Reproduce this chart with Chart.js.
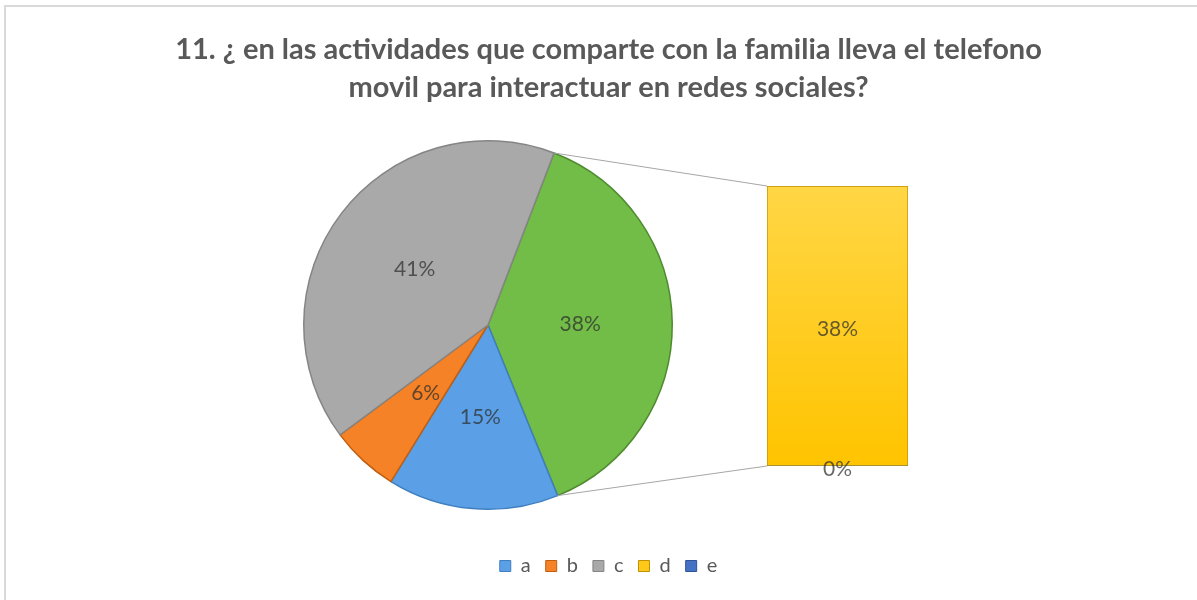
<!DOCTYPE html>
<html>
<head>
<meta charset="utf-8">
<script src="https://cdn.jsdelivr.net/npm/chart.js@4.4.0/dist/chart.umd.min.js"></script>
<style>
  body { margin: 0; background: #fff; }
  #contenedor { position: relative; width: 1197px; height: 600px; overflow: hidden; }
  #marco { position: absolute; left: 4px; top: 5px; width: 1300px; height: 700px;
           border-left: 2px solid #d9d9d9; border-top: 2px solid #d9d9d9; }
  canvas { position: absolute; }
  #graficoBase { left: 0; top: 0; }
  #graficoTorta { left: 298px; top: 135px; }
  #graficoBarra { left: 540px; top: 130px; }
</style>
</head>
<body>
<div id="contenedor">
  <div id="marco"></div>
  <canvas id="graficoBase" width="1197" height="600"></canvas>
  <canvas id="graficoTorta" width="380" height="380"></canvas>
  <canvas id="graficoBarra" width="436" height="390"></canvas>
</div>
<script>
// datos
const categorias = ["a", "b", "c", "d", "e"];
const colores = ["#5ba0e6", "#f58226", "#a9a9a9", "#ffc91a", "#4472c4"];
const bordes = ["#3f7fc0", "#c05e10", "#858585", "#bf9000", "#2f5597"];

// torta principal: "otro" (d + e), a, b, c
const etiquetasTorta = ["otro", "a", "b", "c"];
const valoresTorta = [38, 15, 6, 41];
const coloresTorta = ["#72bc48", "#5ba0e6", "#f58226", "#a9a9a9"];
const bordesTorta = ["#4e8a2e", "#3f7fc0", "#c05e10", "#858585"];

// barra secundaria: e abajo, d arriba
const etiquetasBarra = ["e", "d"];
const valoresBarra = [0, 38];

const titulo = [
  "11. ¿ en las actividades que comparte con la familia lleva el telefono",
  "movil para interactuar en redes sociales?"
];

const fuente = "Lato";
let tortaChart;

// dibuja los porcentajes sobre cada elemento
const etiquetasPlugin = {
  id: "etiquetas",
  afterDatasetsDraw(chart) {
    const ctx = chart.ctx;
    ctx.save();
    ctx.font = `21px ${fuente}`;
    ctx.textAlign = "center";
    ctx.textBaseline = "middle";
    ctx.fillStyle = "rgba(45,45,45,0.72)";
    chart.data.datasets.forEach((ds, i) => {
      const meta = chart.getDatasetMeta(i);
      meta.data.forEach((el, j) => {
        let x, y;
        if (meta.type === "pie") {
          const p = el.tooltipPosition();
          x = p.x; y = p.y;
        } else {
          x = el.x; y = (el.y + el.base) / 2 + 3;
        }
        ctx.fillText(ds.data[j] + "%", x, y);
      });
    });
    ctx.restore();
  }
};

// lineas que unen la torta con la barra
const conectoresPlugin = {
  id: "conectores",
  beforeDatasetsDraw(chart) {
    if (!tortaChart) return;
    const arco = tortaChart.getDatasetMeta(0).data[0];
    const tortaCanvas = tortaChart.canvas;
    const barraCanvas = chart.canvas;
    const dx = tortaCanvas.offsetLeft - barraCanvas.offsetLeft;
    const dy = tortaCanvas.offsetTop - barraCanvas.offsetTop;
    const r = arco.outerRadius;
    const p1 = { x: arco.x + r * Math.cos(arco.startAngle) + dx, y: arco.y + r * Math.sin(arco.startAngle) + dy };
    const p2 = { x: arco.x + r * Math.cos(arco.endAngle) + dx, y: arco.y + r * Math.sin(arco.endAngle) + dy };
    const barraD = chart.getDatasetMeta(1).data[0];
    const barraE = chart.getDatasetMeta(0).data[0];
    const izq = barraD.x - barraD.width / 2;
    const ctx = chart.ctx;
    ctx.save();
    ctx.strokeStyle = "#a6a6a6";
    ctx.lineWidth = 1;
    ctx.beginPath();
    ctx.moveTo(p1.x, p1.y);
    ctx.lineTo(izq, barraD.y);
    ctx.moveTo(p2.x, p2.y);
    ctx.lineTo(izq, barraE.base);
    ctx.stroke();
    ctx.restore();
  }
};

// grafico base: titulo y leyenda
new Chart(document.getElementById("graficoBase"), {
  type: "pie",
  data: { labels: categorias, datasets: [] },
  options: {
    responsive: false,
    animation: false,
    layout: { padding: { bottom: 14, left: 20 } },
    plugins: {
      tooltip: { enabled: false },
      title: {
        display: true,
        text: titulo,
        color: "#595959",
        font: { family: fuente, size: 29, weight: "bold", lineHeight: 1.31 },
        padding: { top: 31, bottom: 0 }
      },
      legend: {
        position: "bottom",
        onClick: () => {},
        labels: {
          boxWidth: 11,
          boxHeight: 11,
          padding: 15,
          color: "#595959",
          font: { family: fuente, size: 20 },
          generateLabels: () => categorias.map((c, i) => ({
            text: c,
            fillStyle: colores[i],
            strokeStyle: bordes[i],
            lineWidth: 1,
            hidden: false,
            index: i,
            fontColor: "#595959"
          }))
        }
      }
    }
  }
});

// torta principal
tortaChart = new Chart(document.getElementById("graficoTorta"), {
  type: "pie",
  data: {
    labels: etiquetasTorta,
    datasets: [{
      data: valoresTorta,
      backgroundColor: coloresTorta,
      borderColor: bordesTorta,
      borderWidth: 1.5
    }]
  },
  options: {
    responsive: false,
    animation: false,
    rotation: 21,
    layout: { padding: 5 },
    plugins: { legend: { display: false }, tooltip: { enabled: false } }
  },
  plugins: [etiquetasPlugin]
});

// barra de desglose
const degradado = (ctx) => {
  const area = ctx.chart.chartArea;
  if (!area) return colores[3];
  const g = ctx.chart.ctx.createLinearGradient(0, area.top, 0, area.bottom);
  g.addColorStop(0, "#ffd645");
  g.addColorStop(1, "#ffc400");
  return g;
};

new Chart(document.getElementById("graficoBarra"), {
  type: "bar",
  data: {
    labels: ["d/e"],
    datasets: [
      { label: etiquetasBarra[0], data: [valoresBarra[0]], backgroundColor: colores[4], borderWidth: 0 },
      { label: etiquetasBarra[1], data: [valoresBarra[1]], backgroundColor: degradado,
        borderColor: bordes[3], borderWidth: 1, borderSkipped: false }
    ]
  },
  options: {
    responsive: false,
    animation: false,
    barPercentage: 1,
    categoryPercentage: 1,
    layout: { padding: { left: 227, right: 68, top: 56, bottom: 54 } },
    scales: {
      x: { stacked: true, display: false },
      y: { stacked: true, display: false, min: 0, max: 38 }
    },
    plugins: { legend: { display: false }, tooltip: { enabled: false } }
  },
  plugins: [conectoresPlugin, etiquetasPlugin]
});
</script>
</body>
</html>
